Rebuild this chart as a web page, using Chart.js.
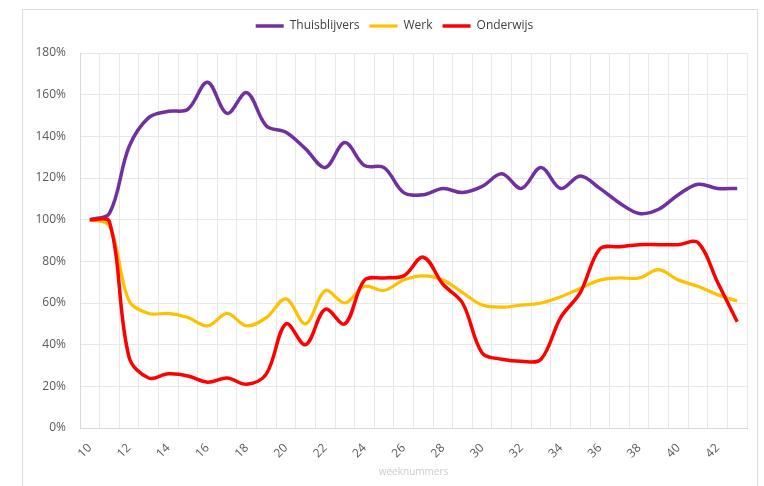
<!DOCTYPE html>
<html>
<head>
<meta charset="utf-8">
<script src="https://cdn.jsdelivr.net/npm/chart.js@4.4.1/dist/chart.umd.min.js"></script>
<style>
html,body{margin:0;padding:0;background:#fff;}
#wrap{position:relative;width:764px;height:486px;overflow:hidden;}
#frame{position:absolute;left:22px;top:9px;width:734px;height:500px;border:1px solid #dcdcdc;}
canvas{position:absolute;left:0;top:0;}
</style>
</head>
<body>
<div id="wrap"><div id="frame"></div><canvas id="c" width="764" height="486"></canvas></div>
<script>
const weeks = [10,11,12,13,14,15,16,17,18,19,20,21,22,23,24,25,26,27,28,29,30,31,32,33,34,35,36,37,38,39,40,41,42,43];
const thuisblijvers = [100,103,135,149,152,153,166,151,161,145,142,134,125,137,126,125,113,112,115,113,116,122,115,125,115,121,115,108,103,105,112,117,115,115];
const werk = [100,97,61,55,55,53,49,55,49,53,62,50,66,60,68,66,71,73,71,65,59,58,59,60,63,67,71,72,72,76,71,68,64,61];
const onderwijs = [100,99,34,24,26,25,22,24,21,26,50,40,57,50,71,72,73,82,69,60,36,33,32,33,53,65,86,87,88,88,88,89,70,51];
const seriesNames = ['Thuisblijvers','Werk','Onderwijs'];
const seriesColors = ['#7030A0','#FFC000','#FF0000'];
const yTicks = {min:0, max:180, step:20};
const axisTitle = 'weeknummers';

const FONT = "'Open Sans', 'Liberation Sans', sans-serif";

const tweak = {
  id: 'tweak',
  beforeLayout(chart) {
    const lg = chart.legend;
    if (lg && !lg._wrapped) {
      const f = lg.fit;
      lg.fit = function () { f.call(this); this.height += 11; };
      lg._wrapped = true;
    }
  },
  afterLayout(chart) {
    const lg = chart.legend;
    if (lg) { lg.left += 10; lg.right += 10; }
  }
};

const mk = (i, data, w, ord) => ({
  label: seriesNames[i], data, borderColor: seriesColors[i], backgroundColor: seriesColors[i],
  borderWidth: w, pointRadius: 0, tension: 0.35, fill: false, order: ord
});

new Chart(document.getElementById('c'), {
  type: 'line',
  data: {
    labels: weeks.map(String),
    datasets: [mk(0, thuisblijvers, 3.5, 3), mk(1, werk, 3.2, 2), mk(2, onderwijs, 3.5, 1)]
  },
  plugins: [tweak],
  options: {
    responsive: false,
    animation: false,
    layout: { padding: { left: 22, right: 17, top: 10, bottom: 4 } },
    plugins: {
      tooltip: { enabled: false },
      legend: {
        position: 'top',
        labels: {
          usePointStyle: true, pointStyle: 'line', pointStyleWidth: 28, padding: 10,
          color: '#404040', font: { family: FONT, size: 12 },
          sort: (a, b) => a.datasetIndex - b.datasetIndex
        }
      }
    },
    scales: {
      x: {
        type: 'category', offset: true,
        grid: { offset: true, color: '#e8e8e8', drawTicks: false },
        border: { color: '#d9d9d9' },
        ticks: {
          autoSkip: false, maxRotation: 45, minRotation: 45, padding: 13,
          color: '#595959', font: { family: FONT, size: 12 },
          callback: (v, i) => (weeks[i] % 2 === 0 ? String(weeks[i]) : '')
        },
        title: { display: true, text: axisTitle, color: '#cccccc', font: { family: FONT, size: 10 }, padding: { top: 0, bottom: 4 } },
        afterFit(s) { s.height = 54; }
      },
      y: {
        min: yTicks.min, max: yTicks.max,
        grid: { color: '#e8e8e8', drawTicks: false },
        border: { color: '#d9d9d9' },
        ticks: { stepSize: yTicks.step, padding: 14, color: '#595959', font: { family: FONT, size: 12 }, callback: v => v + '%' },
        afterFit(s) { s.width = 58; }
      }
    }
  }
});
</script>
</body>
</html>
